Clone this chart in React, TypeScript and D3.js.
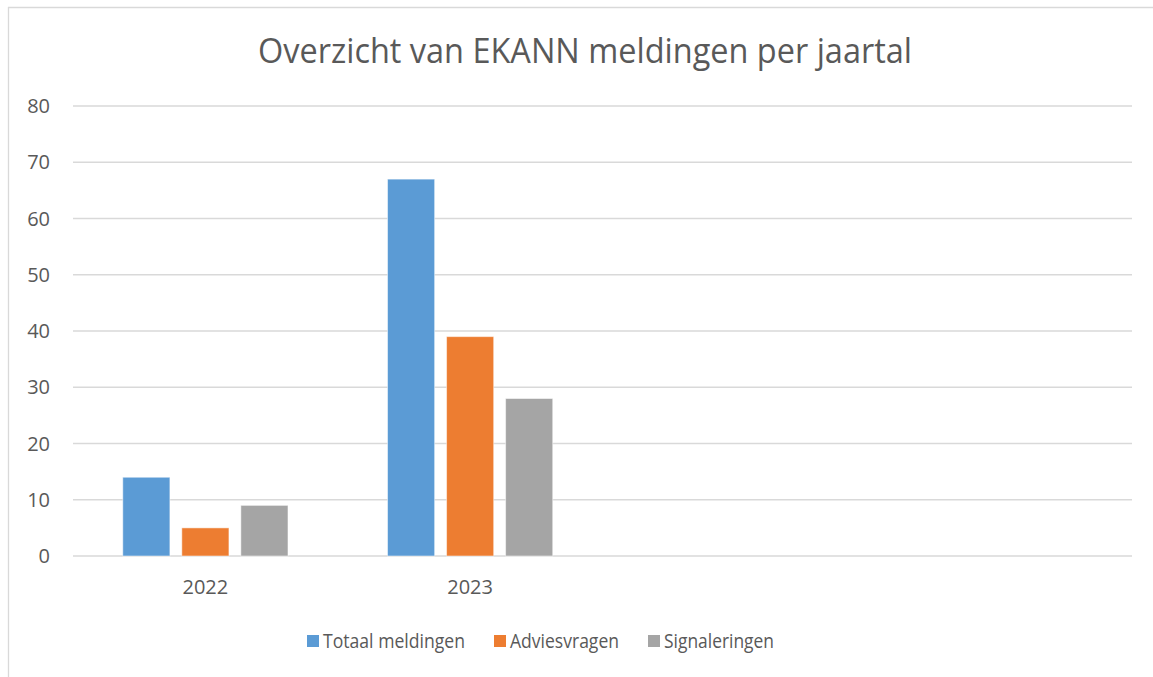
import React from "react";
import * as d3 from "d3";

const categories = ["2022", "2023", "", ""];
const seriesNames = ["Totaal meldingen", "Adviesvragen", "Signaleringen"];
const seriesColors = ["#5B9BD5", "#ED7D31", "#A5A5A5"];
const totaalMeldingen = [14, 67, null, null];
const adviesvragen = [5, 39, null, null];
const signaleringen = [9, 28, null, null];
const yTicks = [0, 10, 20, 30, 40, 50, 60, 70, 80];
const title = "Overzicht van EKANN meldingen per jaartal";

const W = 1153;
const H = 677;
const FONT = "'Open Sans', 'Noto Sans', sans-serif";
const TEXT = "#595959";
const GRID = "#D9D9D9";

export default function App() {
  const series = [totaalMeldingen, adviesvragen, signaleringen];
  const plotL = 73, plotR = 1132, plotT = 106, plotB = 556;
  const x = d3.scaleBand<number>().domain(categories.map((_, i) => i)).range([plotL, plotR]).paddingInner(0).paddingOuter(0);
  const y = d3.scaleLinear().domain([0, 80]).range([plotB, plotT]);
  const bw = x.bandwidth();
  const barW = bw * 0.178;
  const gap = bw * 0.045;
  const groupW = barW * 3 + gap * 2;

  const legendItems = [
    { sq: 307, tx: 323, len: 142 },
    { sq: 494, tx: 510, len: 109 },
    { sq: 648, tx: 664, len: 110 },
  ];

  return (
    <div style={{ position: "fixed", left: 0, top: 0 }}>
      <svg width={W} height={H} style={{ display: "block", background: "#fff" }}>
        <line x1={8.5} y1={7} x2={8.5} y2={H} stroke={GRID} strokeWidth={1.3} />
        <line x1={8} y1={7.5} x2={W} y2={7.5} stroke={GRID} strokeWidth={1.3} />
        <text x={585} y={63} textAnchor="middle" fontFamily={FONT} fontSize={34} fill={TEXT} textLength={654} lengthAdjust="spacingAndGlyphs">{title}</text>
        {yTicks.map((t) => (
          <g key={t}>
            <line x1={plotL} x2={plotR} y1={y(t)} y2={y(t)} stroke={GRID} strokeWidth={1.3} />
            <text x={50} y={y(t)} dy="0.36em" textAnchor="end" fontFamily={FONT} fontSize={20} fill={TEXT}>{t}</text>
          </g>
        ))}
        {categories.map((c, i) => {
          const cx = (x(i) as number) + bw / 2;
          return (
            <g key={i}>
              {series.map((s, k) => {
                const v = s[i];
                if (v == null) return null;
                const bx = cx - groupW / 2 + k * (barW + gap);
                return (
                  <rect key={k} x={bx} y={y(v)} width={barW} height={plotB - y(v)} fill={seriesColors[k]} stroke="#ffffff" strokeOpacity={0.5} strokeWidth={1} />
                );
              })}
              {c && (
                <text x={cx} y={587} dy="0.36em" textAnchor="middle" fontFamily={FONT} fontSize={20} fill={TEXT}>{c}</text>
              )}
            </g>
          );
        })}
        {seriesNames.map((n, k) => (
          <g key={n}>
            <rect x={legendItems[k].sq} y={635} width={12} height={12} fill={seriesColors[k]} />
            <text x={legendItems[k].tx} y={641} dy="0.36em" fontFamily={FONT} fontSize={20} fill={TEXT} textLength={legendItems[k].len} lengthAdjust="spacingAndGlyphs">{n}</text>
          </g>
        ))}
      </svg>
    </div>
  );
}
